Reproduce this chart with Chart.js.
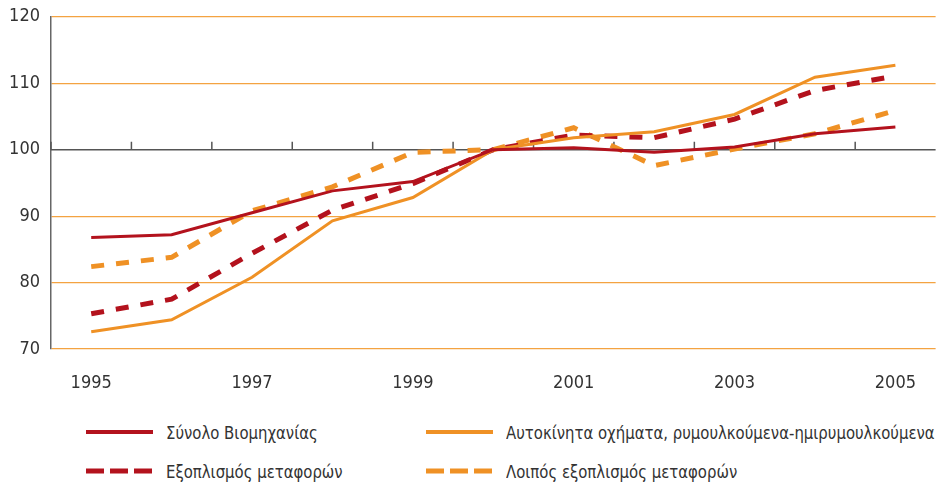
<!DOCTYPE html>
<html>
<head>
<meta charset="utf-8">
<script src="https://cdn.jsdelivr.net/npm/chart.js@4.4.1/dist/chart.umd.min.js"></script>
<style>
  body { margin: 0; background: #fff; overflow: hidden; }
  #wrap { position: relative; width: 940px; height: 485px; overflow: hidden; }
  #chartBox { position: absolute; left: 0; top: -5px; width: 940px; height: 410px; }
  .leg { position: absolute; font-family: "Liberation Sans Narrow", "DejaVu Sans Condensed", "Roboto", sans-serif;
         font-size: 18px; color: #333; display: flex; align-items: center; white-space: nowrap; }
  .leg svg { margin-right: 13px; }
  .leg span { display: inline-block; transform: scaleX(0.92); transform-origin: left center; }
</style>
</head>
<body>
<div id="wrap">
  <div id="chartBox"><canvas id="indexChart"></canvas></div>
  <div id="legend"></div>
</div>
<script>
const years = ['1995', '1996', '1997', '1998', '1999', '2000', '2001', '2002', '2003', '2004', '2005'];
const totalIndustry = [86.8, 87.2, 90.5, 93.8, 95.2, 100.0, 100.3, 99.6, 100.4, 102.4, 103.4];
const motorVehicles = [72.6, 74.4, 80.8, 89.3, 92.8, 100.0, 101.8, 102.7, 105.3, 110.9, 112.7];
const transportEquip = [75.3, 77.5, 84.4, 90.9, 94.9, 100.0, 102.2, 101.8, 104.6, 108.9, 111.1];
const otherTransport = [82.4, 83.8, 90.8, 94.4, 99.6, 100.0, 103.3, 97.6, 100.1, 102.4, 105.9];
const yTicks = [70, 80, 90, 100, 110, 120];
const seriesNames = [
    'Σύνολο Βιομηχανίας',
    'Αυτοκίνητα οχήματα, ρυμουλκούμενα-ημιρυμουλκούμενα',
    'Εξοπλισμός μεταφορών',
    'Λοιπός εξοπλισμός μεταφορών'
];

const RED = '#b3121d';
const ORANGE = '#ef9125';
const FONT = '"Liberation Sans Narrow", "DejaVu Sans Condensed", "Roboto", sans-serif';

// axis line at 100 with small ticks between the years
const baseLinePlugin = {
    id: 'baseLine',
    beforeDatasetsDraw(chart) {
        const { ctx, chartArea, scales } = chart;
        const y = scales.y.getPixelForValue(100);
        const step = scales.x.getPixelForValue(1) - scales.x.getPixelForValue(0);
        ctx.save();
        ctx.strokeStyle = '#555';
        ctx.lineWidth = 1.5;
        ctx.beginPath();
        ctx.moveTo(chartArea.left, y);
        ctx.lineTo(chartArea.right, y);
        for (let i = 0; i < years.length; i++) {
            const x = scales.x.getPixelForValue(i) - step / 2;
            ctx.moveTo(x, y);
            ctx.lineTo(x, y - 8);
        }
        ctx.stroke();
        ctx.restore();
    }
};

document.addEventListener('DOMContentLoaded', () => {
    const ctx = document.getElementById('indexChart').getContext('2d');
    new Chart(ctx, {
        type: 'line',
        data: {
            labels: years,
            datasets: [
                { label: seriesNames[0], data: totalIndustry, borderColor: RED, borderWidth: 3 },
                { label: seriesNames[1], data: motorVehicles, borderColor: ORANGE, borderWidth: 3 },
                { label: seriesNames[2], data: transportEquip, borderColor: RED, borderWidth: 5, borderDash: [13, 12] },
                { label: seriesNames[3], data: otherTransport, borderColor: ORANGE, borderWidth: 5, borderDash: [13, 12] }
            ]
        },
        options: {
            responsive: true,
            maintainAspectRatio: false,
            animation: false,
            layout: { padding: { top: 11, right: 0, left: 0, bottom: 0 } },
            elements: {
                point: { radius: 0 },
                line: { tension: 0, borderCapStyle: 'butt' }
            },
            plugins: {
                legend: { display: false },
                tooltip: { enabled: false }
            },
            scales: {
                x: {
                    offset: true,
                    grid: { display: false, drawTicks: false },
                    border: { display: false },
                    ticks: {
                        autoSkip: false,
                        maxRotation: 0,
                        padding: 24,
                        color: '#333',
                        font: { family: FONT, size: 18 },
                        callback: (v, i) => (i % 2 === 0 ? years[i] : '')
                    },
                    afterFit: (s) => { s.height = 56; }
                },
                y: {
                    min: 70,
                    max: 120,
                    afterBuildTicks: (s) => { s.ticks = yTicks.map(v => ({ value: v })); },
                    grid: {
                        drawTicks: false,
                        lineWidth: 1.2,
                        color: (c) => (c.tick && c.tick.value === 100 ? 'rgba(0,0,0,0)' : '#f4a341')
                    },
                    border: { color: '#666', width: 1.5 },
                    ticks: {
                        padding: 11,
                        color: '#333',
                        font: { family: FONT, size: 18 }
                    },
                    afterFit: (s) => { s.width = 51; }
                }
            }
        },
        plugins: [baseLinePlugin]
    });

    // legend in two columns
    const legendSpec = [
        { color: RED, dash: null, left: 86, top: 420 },
        { color: ORANGE, dash: null, left: 426, top: 420 },
        { color: RED, dash: '18 6', left: 86, top: 459 },
        { color: ORANGE, dash: '18 6', left: 426, top: 459 }
    ];
    const legend = document.getElementById('legend');
    legendSpec.forEach((s, i) => {
        const d = document.createElement('div');
        d.className = 'leg';
        d.style.left = s.left + 'px';
        d.style.top = s.top + 'px';
        const w = s.dash ? 5 : 4;
        d.innerHTML = '<svg width="67" height="24"><line x1="0" y1="12" x2="67" y2="12" stroke="' + s.color +
            '" stroke-width="' + w + '"' + (s.dash ? ' stroke-dasharray="' + s.dash + '"' : '') + '/></svg>' +
            '<span>' + seriesNames[i] + '</span>';
        legend.appendChild(d);
    });
});
</script>
</body>
</html>
